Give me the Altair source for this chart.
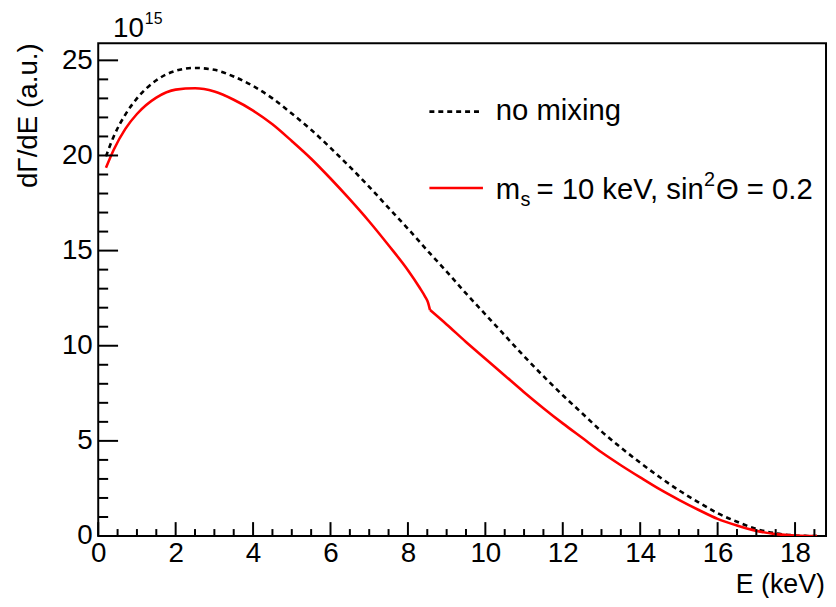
import altair as alt
import pandas as pd

# ---------------- data ----------------
E_NOMIX = [0.2, 0.4, 0.7, 1.0, 1.5, 2.0, 2.5, 3.0, 3.5, 4.0, 4.5, 5.0, 5.5, 6.0,
           6.5, 7.0, 7.5, 8.0, 8.57, 9.0, 9.5, 10.0, 10.5, 11.0, 11.5, 12.0, 12.5, 13.0,
           13.5, 14.0, 14.5, 15.0, 15.5, 16.0, 16.5, 17.0, 17.5, 18.0, 18.3, 18.57]
DGDE_NOMIX = [19.95, 21.0, 22.15, 23.0, 23.95, 24.45, 24.6, 24.5, 24.15, 23.65, 23.0, 22.2, 21.35, 20.4,
              19.4, 18.35, 17.25, 16.15, 14.85, 13.9, 12.75, 11.65, 10.55, 9.45, 8.4, 7.4, 6.45, 5.5,
              4.65, 3.85, 3.1, 2.4, 1.78, 1.2, 0.75, 0.37, 0.14, 0.03, 0.005, 0.0]

E_MIX_LOW = [0.2, 0.4, 0.7, 1.0, 1.5, 2.0, 2.5, 3.0, 3.5, 4.0, 4.5, 5.0, 5.5, 6.0,
             6.5, 7.0, 7.5, 8.0, 8.3, 8.45, 8.52, 8.57]
DGDE_MIX_LOW = [19.35, 20.3, 21.4, 22.18, 23.04, 23.46, 23.53, 23.36, 22.93, 22.36, 21.64, 20.76, 19.83, 18.79,
                17.69, 16.53, 15.28, 13.97, 13.06, 12.56, 12.27, 11.88]

E_MIX_HIGH = [8.57, 9.0, 9.5, 10.0, 10.5, 11.0, 11.5, 12.0, 12.5, 13.0, 13.5, 14.0, 14.5,
              15.0, 15.5, 16.0, 16.5, 17.0, 17.5, 18.0, 18.3, 18.57]
DGDE_MIX_HIGH = [11.88, 11.12, 10.2, 9.32, 8.44, 7.56, 6.72, 5.92, 5.16, 4.4, 3.72, 3.08, 2.46,
                 1.9, 1.38, 0.9, 0.55, 0.27, 0.1, 0.02, 0.003, 0.0]

X_MAJOR = [0, 2, 4, 6, 8, 10, 12, 14, 16, 18]
X_MINOR = [0.5, 1, 1.5, 2.5, 3, 3.5, 4.5, 5, 5.5, 6.5, 7, 7.5, 8.5, 9, 9.5, 10.5, 11, 11.5,
           12.5, 13, 13.5, 14.5, 15, 15.5, 16.5, 17, 17.5, 18.5]
Y_MAJOR = [0, 5, 10, 15, 20, 25]
Y_MINOR = [1, 2, 3, 4, 6, 7, 8, 9, 11, 12, 13, 14, 16, 17, 18, 19, 21, 22, 23, 24]

X_DOMAIN = [0, 18.8]
Y_DOMAIN = [0, 25.9]

LEGEND_NOMIX = ["no mixing"]
LEGEND_MIX_PARTS = ["m", "s", "= 10 keV, sin", "2", "Θ = 0.2"]
X_TITLE = ["E (keV)"]
Y_TITLE = ["dΓ/dE (a.u.)"]
EXPONENT = ["10", "15"]

# ---------------- chart ----------------
W, H = 734, 497
FONT = "Liberation Sans"
LBL = 28

xs = alt.Scale(domain=X_DOMAIN, nice=False, zero=False)
ys = alt.Scale(domain=Y_DOMAIN, nice=False, zero=False)

x_axis = alt.Axis(values=X_MAJOR, title=None, grid=False, ticks=False, tickSize=0, domain=False,
                  labelFont=FONT, labelFontSize=LBL, labelColor="black", labelPadding=4,
                  labelFlush=False, labelOverlap=False)
y_axis = alt.Axis(values=Y_MAJOR, title=None, grid=False, ticks=False, tickSize=0, domain=False,
                  labelFont=FONT, labelFontSize=LBL, labelColor="black", labelPadding=6,
                  labelFlush=False, labelOverlap=False)

df_nomix = pd.DataFrame({"E": E_NOMIX, "V": DGDE_NOMIX})
df_mix = pd.concat([
    pd.DataFrame({"E": E_MIX_LOW, "V": DGDE_MIX_LOW, "seg": "low"}),
    pd.DataFrame({"E": E_MIX_HIGH, "V": DGDE_MIX_HIGH, "seg": "high"}),
])

nomix = alt.Chart(df_nomix).mark_line(
    color="black", strokeWidth=2.6, strokeDash=[5, 4], interpolate="monotone", clip=True
).encode(
    x=alt.X("E:Q", scale=xs, axis=x_axis),
    y=alt.Y("V:Q", scale=ys, axis=y_axis),
)

mix = alt.Chart(df_mix).mark_line(
    color="#ff0000", strokeWidth=2.6, interpolate="monotone", clip=True
).encode(
    x=alt.X("E:Q", scale=xs, axis=x_axis),
    y=alt.Y("V:Q", scale=ys, axis=y_axis),
    detail="seg:N",
)

# inward ticks (ROOT style)
ymaj = alt.Chart(pd.DataFrame({"v": Y_MAJOR})).mark_rule(color="black", strokeWidth=2).encode(
    y=alt.Y("v:Q", scale=ys, axis=y_axis), x=alt.value(0), x2=alt.value(20))
ymin = alt.Chart(pd.DataFrame({"v": Y_MINOR})).mark_rule(color="black", strokeWidth=2).encode(
    y=alt.Y("v:Q", scale=ys, axis=y_axis), x=alt.value(0), x2=alt.value(10))
xmaj = alt.Chart(pd.DataFrame({"v": X_MAJOR})).mark_rule(color="black", strokeWidth=2).encode(
    x=alt.X("v:Q", scale=xs, axis=x_axis), y=alt.value(H), y2=alt.value(H - 14))
xmin = alt.Chart(pd.DataFrame({"v": X_MINOR})).mark_rule(color="black", strokeWidth=2).encode(
    x=alt.X("v:Q", scale=xs, axis=x_axis), y=alt.value(H), y2=alt.value(H - 7))

one = pd.DataFrame({"k": [0]})


def txt(s, x, y, size, align="left", angle=0):
    return alt.Chart(pd.DataFrame({"t": [s]})).mark_text(
        font=FONT, fontSize=size, color="black", align=align, baseline="alphabetic", angle=angle
    ).encode(x=alt.value(x), y=alt.value(y), text="t:N")


leg_line_nomix = alt.Chart(one).mark_rule(color="black", strokeWidth=2.6, strokeDash=[5, 4]).encode(
    x=alt.value(334), x2=alt.value(388), y=alt.value(69))
leg_line_mix = alt.Chart(one).mark_rule(color="#ff0000", strokeWidth=2.6).encode(
    x=alt.value(334), x2=alt.value(388), y=alt.value(146))

LEG = 29.5
layers = [
    nomix, mix, ymaj, ymin, xmaj, xmin,
    leg_line_nomix, leg_line_mix,
    txt(LEGEND_NOMIX[0], 401, 77, LEG),
    txt(LEGEND_MIX_PARTS[0], 401, 157, LEG),
    txt(LEGEND_MIX_PARTS[1], 426, 164, 20),
    txt(LEGEND_MIX_PARTS[2], 442, 157, LEG),
    txt(LEGEND_MIX_PARTS[3], 611, 144, 20),
    txt(LEGEND_MIX_PARTS[4], 623, 157, LEG),
    txt(X_TITLE[0], 733, 554, 27, align="right"),
    txt(Y_TITLE[0], -62, 0, 28, align="right", angle=270),
    txt(EXPONENT[0], 15, -6, 28),
    txt(EXPONENT[1], 47, -19, 16),
]

chart = alt.layer(*layers).properties(
    width=W, height=H,
    background="white",
    autosize=alt.AutoSizeParams(type="none"),
    padding={"left": 91, "top": 33, "right": 2, "bottom": 60},
).configure_view(stroke="black", strokeWidth=2)

chart.save("out.html", embed_options={"renderer": "svg", "actions": False})
